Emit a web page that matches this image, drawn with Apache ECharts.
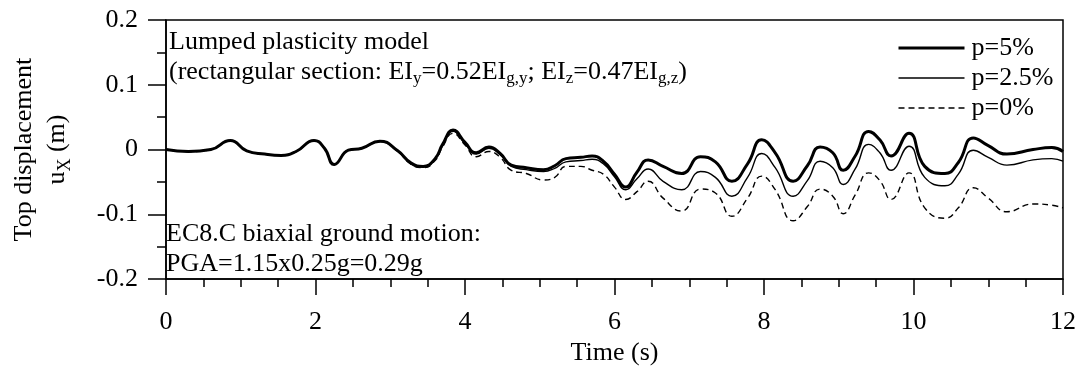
<!DOCTYPE html>
<html>
<head>
<meta charset="utf-8">
<script src="https://cdn.jsdelivr.net/npm/echarts@6/dist/echarts.min.js"></script>
<style>
  html, body { margin: 0; padding: 0; background: #fff; }
  #chart { width: 1080px; height: 371px; }
</style>
</head>
<body>
<div id="chart"></div>
<script>
// time (s)
const times = [0, 0.3, 0.6, 0.86, 1.08, 1.32, 1.54, 1.74, 1.98, 2.12, 2.25, 2.44, 2.62, 2.86, 3.1, 3.28, 3.44, 3.6, 3.7, 3.84,
  4.0, 4.15, 4.32, 4.47, 4.62, 4.82, 5.05, 5.2, 5.35, 5.55, 5.7, 5.85, 6.0, 6.15, 6.3, 6.45, 6.65, 6.9, 7.15, 7.35,
  7.57, 7.78, 7.97, 8.15, 8.39, 8.58, 8.75, 8.92, 9.06, 9.22, 9.4, 9.55, 9.7, 9.94, 10.15, 10.42, 10.6, 10.8, 11.0, 11.25,
  11.6, 11.85, 12.0];

// top displacement uX (m)
const p5 = [0, -0.003, 0, 0.014, -0.002, -0.007, -0.009, -0.003, 0.014, 0.002, -0.023, -0.001, 0.002, 0.013, -0.002, -0.021, -0.026, -0.014, 0.008, 0.030,
  0.011, -0.005, 0.004, -0.006, -0.024, -0.028, -0.031, -0.025, -0.014, -0.012, -0.010, -0.018, -0.038, -0.058, -0.035, -0.016, -0.026, -0.037, -0.011, -0.019,
  -0.049, -0.022, 0.015, -0.005, -0.049, -0.025, 0.004, -0.005, -0.032, -0.010, 0.028, 0.015, -0.010, 0.025, -0.026, -0.037, -0.020, 0.018, 0.006, -0.007,
  0.000, 0.003, -0.003];
const p25 = [0, -0.003, 0, 0.014, -0.002, -0.007, -0.009, -0.003, 0.014, 0.002, -0.023, -0.001, 0.002, 0.013, -0.002, -0.022, -0.027, -0.015, 0.006, 0.028,
  0.009, -0.007, 0.002, -0.008, -0.026, -0.031, -0.034, -0.029, -0.019, -0.017, -0.015, -0.022, -0.042, -0.062, -0.045, -0.030, -0.049, -0.062, -0.034, -0.043,
  -0.072, -0.043, -0.006, -0.028, -0.072, -0.048, -0.018, -0.028, -0.054, -0.030, 0.008, -0.005, -0.032, 0.005, -0.043, -0.056, -0.038, -0.001, -0.012, -0.024,
  -0.016, -0.014, -0.018];
const p0 = [0, -0.003, 0, 0.014, -0.002, -0.007, -0.009, -0.003, 0.014, 0.002, -0.023, -0.001, 0.002, 0.012, -0.003, -0.023, -0.028, -0.017, 0.004, 0.025,
  0.007, -0.011, -0.003, -0.012, -0.032, -0.037, -0.047, -0.043, -0.026, -0.026, -0.032, -0.038, -0.058, -0.077, -0.065, -0.049, -0.075, -0.095, -0.061, -0.067,
  -0.103, -0.075, -0.041, -0.062, -0.110, -0.088, -0.061, -0.072, -0.099, -0.070, -0.036, -0.048, -0.077, -0.036, -0.090, -0.106, -0.090, -0.059, -0.075, -0.096,
  -0.084, -0.086, -0.090];

const seriesNames = ['p=5%', 'p=2.5%', 'p=0%'];

const font = 'Liberation Serif';
const pair = vals => times.map((t, i) => [t, vals[i]]);
const boldLine = { color: '#000', width: 3 };
const thinLine = { color: '#000', width: 1.4 };
const dashLine = { color: '#000', width: 1.4, type: [6, 4] };

let dom = echarts.init(document.getElementById('chart'));
dom.setOption({
  backgroundColor: '#fff',
  animation: false,
  grid: {
    left: 155, right: 17, top: 20, bottom: 86,
    show: true, borderColor: '#000', borderWidth: 1.5
  },
  legend: {
    orient: 'vertical',
    left: 892, top: 30,
    itemWidth: 66, itemHeight: 14, itemGap: 4,
    itemStyle: { opacity: 0 },
    textStyle: { fontFamily: font, fontSize: 26, color: '#000', lineHeight: 26, padding: [0, 0, 0, 2] },
    data: [
      { name: seriesNames[0], lineStyle: boldLine },
      { name: seriesNames[1], lineStyle: thinLine },
      { name: seriesNames[2], lineStyle: dashLine }
    ]
  },
  xAxis: {
    type: 'value',
    min: 0, max: 12, interval: 2,
    name: 'Time (s)',
    nameLocation: 'middle',
    nameGap: 57,
    nameTextStyle: { fontFamily: font, fontSize: 26, color: '#000' },
    axisLine: { onZero: false, lineStyle: { color: '#000', width: 1.5 } },
    axisTick: { length: 16, lineStyle: { color: '#000', width: 1.5 } },
    minorTick: { show: true, splitNumber: 4, length: 8, lineStyle: { color: '#000', width: 1.5 } },
    axisLabel: { fontFamily: font, fontSize: 26, color: '#000', margin: 30 },
    splitLine: { show: false }
  },
  yAxis: {
    type: 'value',
    min: -0.2, max: 0.2, interval: 0.1,
    name: 'Top displacement\n{u|u}{sub|X}{u| (m)}',
    nameLocation: 'middle',
    nameGap: 92,
    nameTextStyle: {
      fontFamily: font, fontSize: 26, color: '#000', lineHeight: 33,
      rich: {
        u: { fontFamily: font, fontSize: 26, color: '#000', lineHeight: 33 },
        sub: { fontFamily: font, fontSize: 18, color: '#000', lineHeight: 23, verticalAlign: 'bottom' }
      }
    },
    axisLine: { onZero: false, lineStyle: { color: '#000', width: 1.5 } },
    axisTick: { length: 18, lineStyle: { color: '#000', width: 1.5 } },
    minorTick: { show: true, splitNumber: 2, length: 9, lineStyle: { color: '#000', width: 1.5 } },
    axisLabel: {
      fontFamily: font, fontSize: 26, color: '#000', margin: 28,
      formatter: v => (Math.abs(v) < 1e-9 ? '0' : String(Math.round(v * 10) / 10))
    },
    splitLine: { show: false }
  },
  graphic: [
    {
      type: 'text', left: 169, top: 27,
      style: {
        text: 'Lumped plasticity model\n(rectangular section: EI{sub|y}=0.52EI{sub|g,y}; EI{sub|z}=0.47EI{sub|g,z})',
        font: '26px "Liberation Serif"', fill: '#000', lineHeight: 30,
        rich: {
          sub: { font: '17px "Liberation Serif"', fill: '#000', lineHeight: 19, verticalAlign: 'bottom' }
        }
      }
    },
    {
      type: 'text', left: 166, top: 219,
      style: {
        text: 'EC8.C biaxial ground motion:\nPGA=1.15x0.25g=0.29g',
        font: '26px "Liberation Serif"', fill: '#000', lineHeight: 30
      }
    }
  ],
  series: [
    {
      name: seriesNames[0], type: 'line', data: pair(p5),
      smooth: 0.5, symbol: 'none',
      lineStyle: boldLine, itemStyle: { color: '#000' }
    },
    {
      name: seriesNames[1], type: 'line', data: pair(p25),
      smooth: 0.5, symbol: 'none',
      lineStyle: thinLine, itemStyle: { color: '#000' }
    },
    {
      name: seriesNames[2], type: 'line', data: pair(p0),
      smooth: 0.5, symbol: 'none',
      lineStyle: dashLine, itemStyle: { color: '#000' }
    }
  ]
});
dom.resize();
</script>
</body>
</html>
